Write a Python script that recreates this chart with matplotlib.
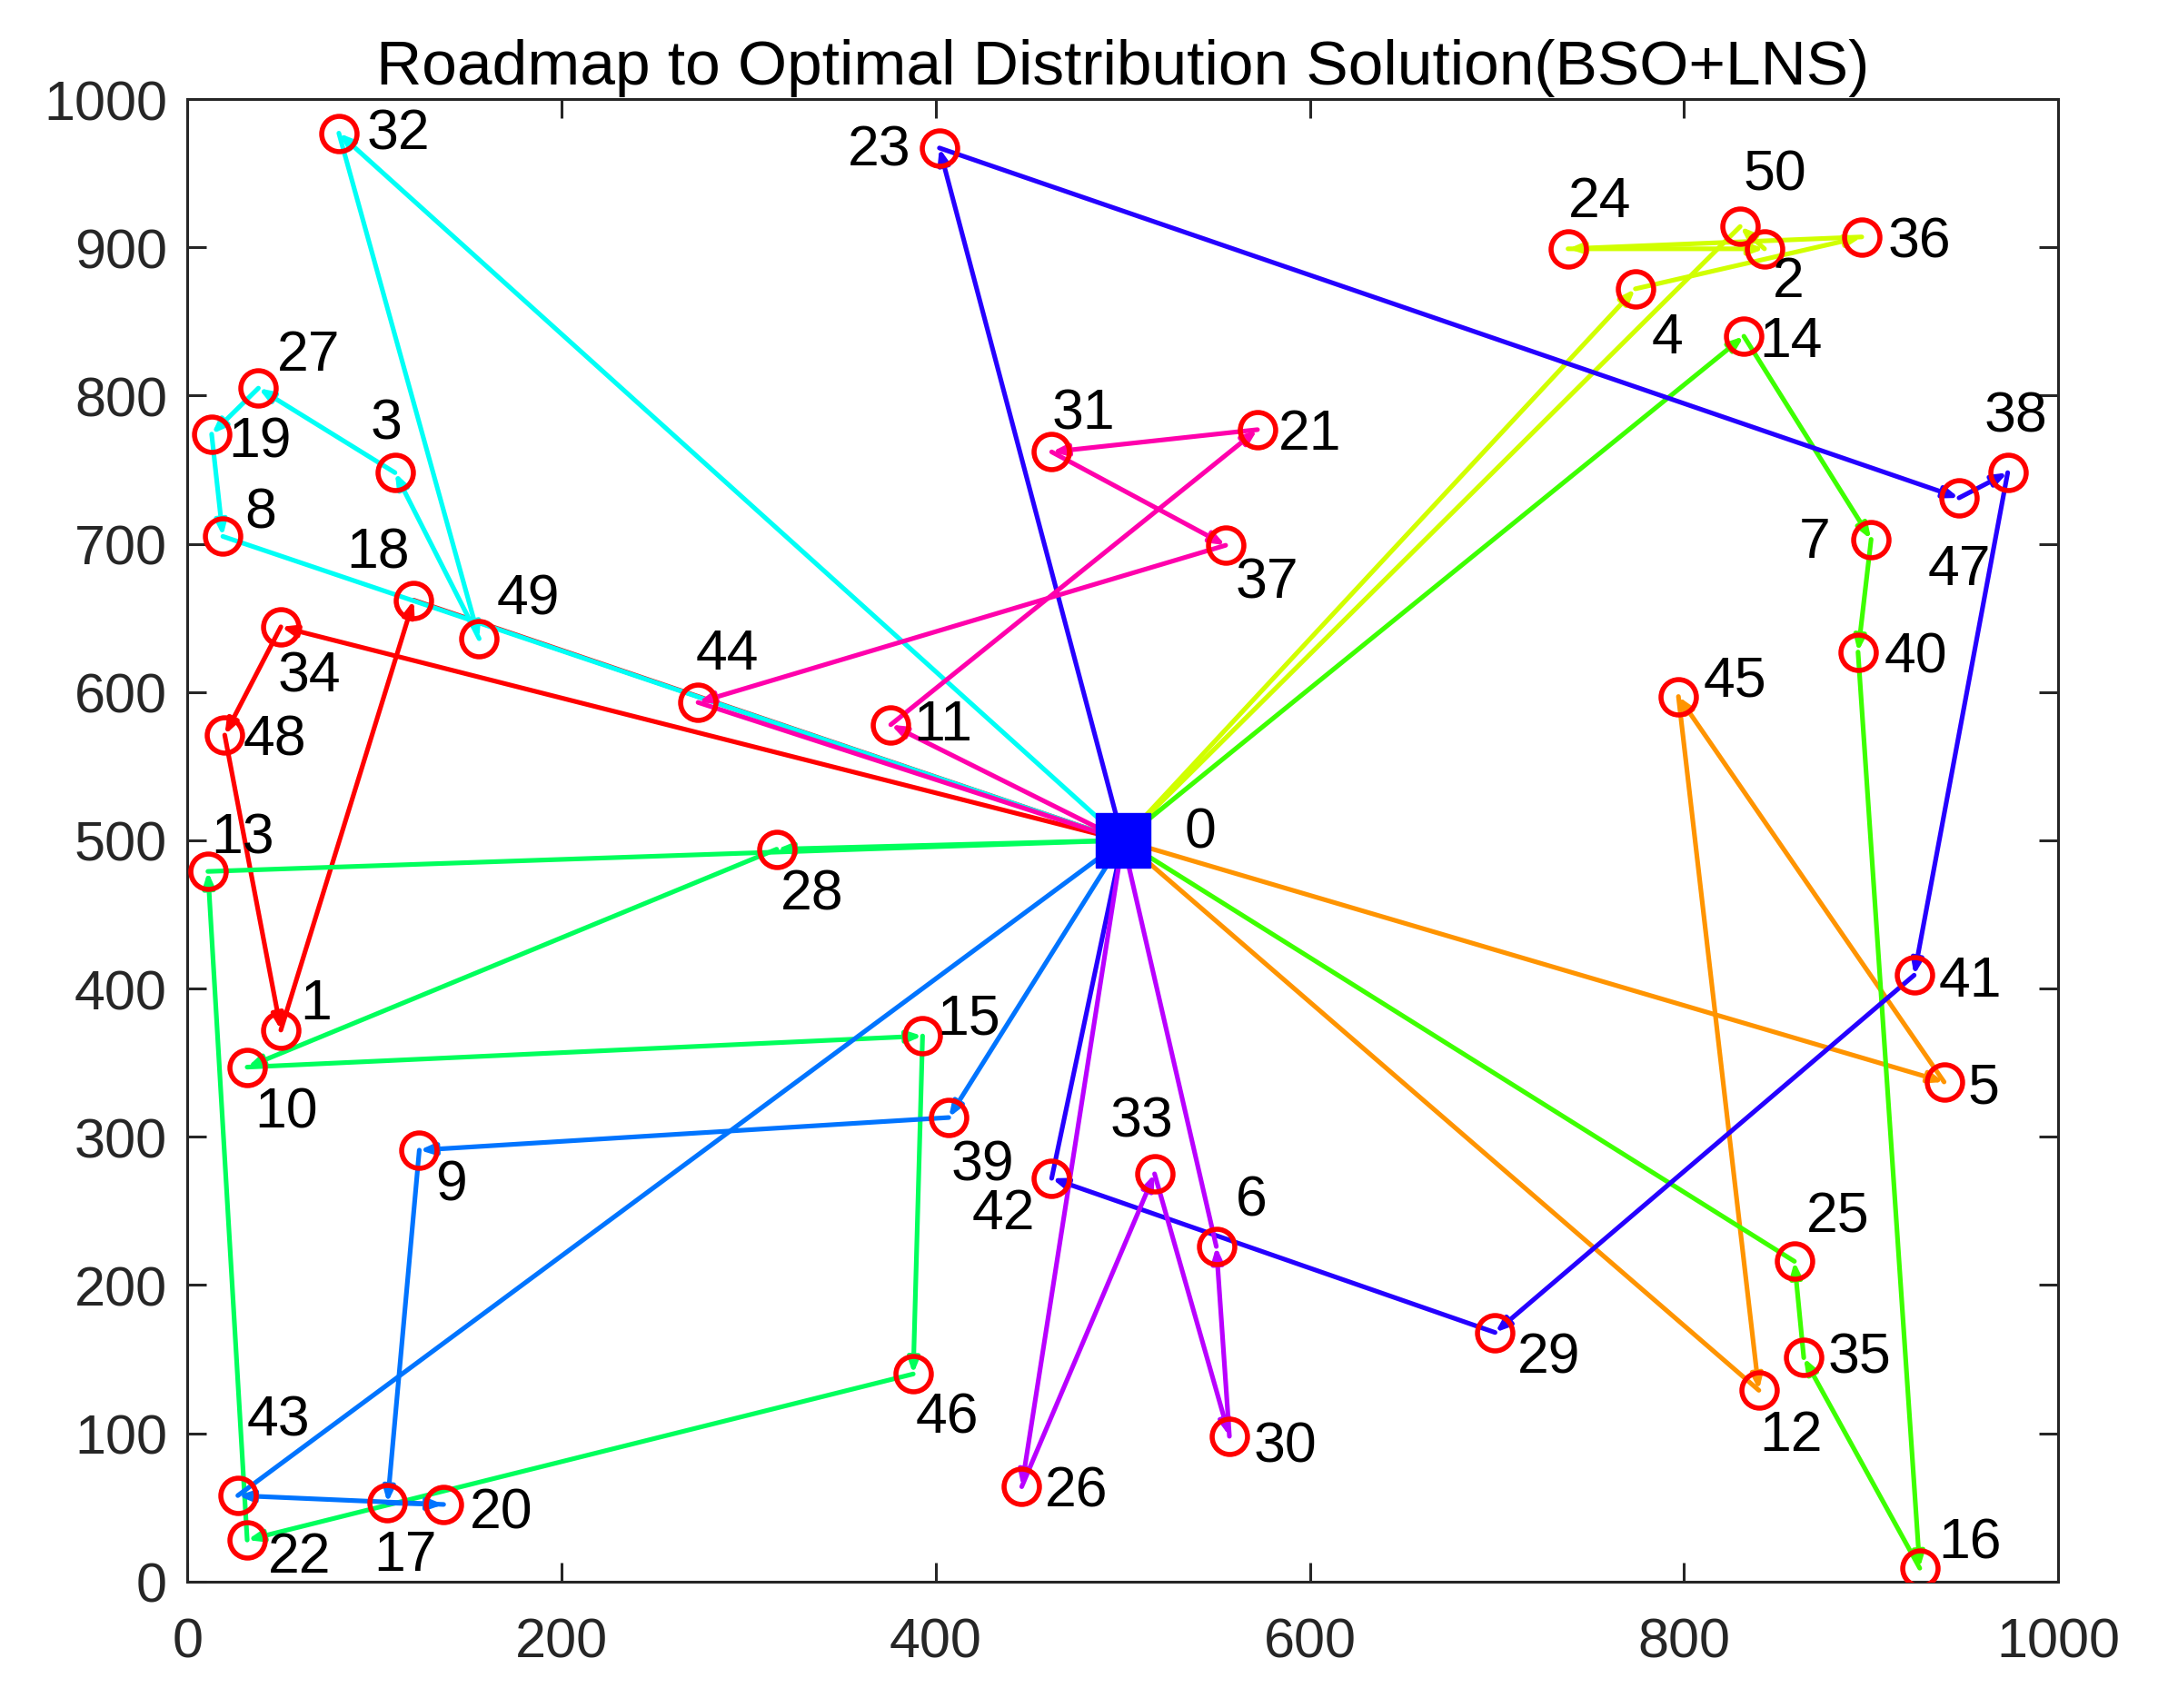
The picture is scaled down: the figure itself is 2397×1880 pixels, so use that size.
import matplotlib
matplotlib.use("Agg")
import matplotlib.pyplot as plt
import numpy as np

plt.rcParams['font.family'] = ['Liberation Sans', 'DejaVu Sans']

# node coordinates (0 = depot)
node_x = [500, 50, 843, 111, 774, 939, 550, 900, 19, 124,
          32, 376, 840, 11, 832, 393, 926, 107, 121, 13,
          137, 572, 32, 402, 738, 859, 446, 38, 315, 699,
          557, 462, 81, 517, 50, 864, 895, 555, 973, 407,
          893, 923, 462, 27, 273, 797, 388, 947, 20, 156,
          830]
node_y = [500, 372, 899, 748, 872, 337, 226, 703, 705, 291,
          347, 578, 129, 479, 840, 368, 9, 53, 662, 774,
          52, 777, 28, 967, 899, 216, 64, 805, 494, 168,
          98, 762, 977, 275, 644, 151, 907, 699, 748, 313,
          627, 409, 272, 58, 593, 597, 140, 731, 571, 636,
          914]

# vehicle routes, in colour order (hsv(10))
routes = [
    [0, 34, 48, 1, 18, 0],
    [0, 5, 45, 12, 0],
    [0, 4, 36, 24, 2, 50, 0],
    [0, 14, 7, 40, 16, 35, 25, 0],
    [0, 28, 10, 15, 46, 22, 13, 0],
    [0, 32, 49, 3, 27, 19, 8, 0],
    [0, 39, 9, 17, 20, 43, 0],
    [0, 23, 47, 38, 41, 29, 42, 0],
    [0, 26, 33, 30, 6, 0],
    [0, 11, 21, 31, 37, 44, 0],
]

# label offsets (data units), placed like the original
lab_dx = [41.6, 18.5, 12.6, -4.5, 17, 21, 18.6, -30, 20, 17,
          21, 28, 17, 18.6, 25, 24.5, 27, 9.7, -19, 26,
          31, 28, 28, -32, 17, 23, 29, 27, 19, 29,
          30, 17, 32, -6.7, 15, 30, 31, 22, 4.5, 18,
          31, 30, -26, 21.5, 15.6, 30, 18, 0, 27, 26,
          18.5]
lab_dy = [5.6, 18, -21.6, 33, -33, -4, 31, -2, 16, -23.5,
          -30, 0, -30, 22.5, -3, 12, 17, -35, 32, -5,
          -5.6, -3, -11, -1, 32, 30, -3, 22.5, -30, -17,
          -6.6, 26, 0, 35.6, -33, 0, -3, -25, 38, -32,
          -3, -4, -23.5, 50.7, 33, 11, -29, -48, -3, 27,
          35]

cmap = plt.get_cmap('hsv')
colors = [cmap(i / len(routes)) for i in range(len(routes))]

fig = plt.figure(figsize=(23.97, 18.81), dpi=100)
ax = fig.add_axes([0.086, 0.074, 0.859, 0.8675])

for r, c in zip(routes, colors):
    for a, b in zip(r[:-1], r[1:]):
        ax.annotate("", xy=(node_x[b], node_y[b]), xytext=(node_x[a], node_y[a]),
                    arrowprops=dict(arrowstyle="-|>,head_length=0.8,head_width=0.3",
                                    color=c, lw=3.7, shrinkA=0, shrinkB=0,
                                    mutation_scale=12))

ax.plot(node_x[1:], node_y[1:], 'o', ms=28, mfc='none', mec='red', mew=4.0, zorder=3)
ax.plot(node_x[0], node_y[0], 's', ms=43, color='blue', zorder=4)

for i in range(len(node_x)):
    ax.text(node_x[i] + lab_dx[i], node_y[i] + lab_dy[i], str(i), fontsize=45,
            ha='center', va='center', color='black', zorder=5)

ax.set_xlim(0, 1000)
ax.set_ylim(0, 1000)
ax.set_xticks(np.arange(0, 1001, 200))
ax.set_yticks(np.arange(0, 1001, 100))
ax.tick_params(direction='in', length=15, width=2.2, labelsize=44, colors='#262626',
               top=True, right=True)
ax.tick_params(axis='x', pad=28)
ax.tick_params(axis='y', pad=16)
for s in ax.spines.values():
    s.set_linewidth(2.2)
    s.set_color('#262626')
ax.set_title("Roadmap to Optimal Distribution Solution(BSO+LNS)", fontsize=50, pad=12)

fig.savefig("out.png", dpi=100)
